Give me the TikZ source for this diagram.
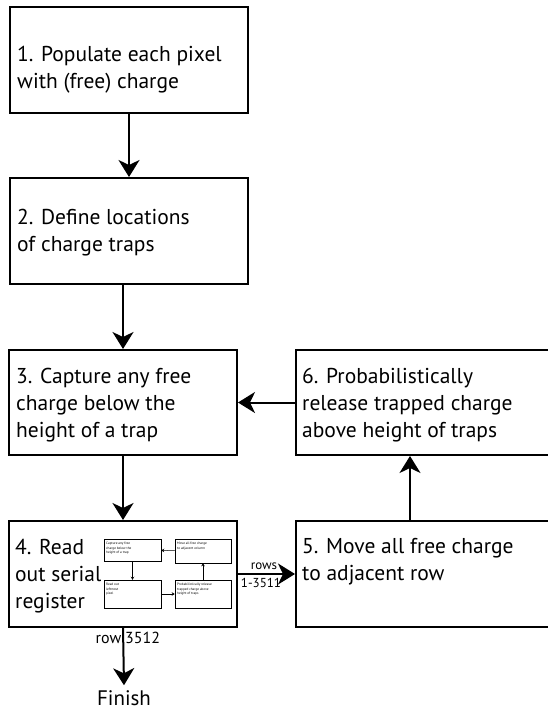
\documentclass[tikz,border=0pt]{standalone}
\usepackage{fontspec}
\setmainfont{PT Sans}
\usetikzlibrary{arrows.meta}

\tikzset{
  box/.style={draw, line width=2pt, rectangle, inner sep=0pt},
  txt/.style={anchor=base west, align=left, inner sep=0pt, font=\fontsize{21.5}{27}\selectfont},
  flow/.style={line width=2pt, -{Stealth[length=17pt,width=21pt,inset=5pt]}},
  mini/.style={draw, line width=0.5pt, rectangle, inner sep=0pt},
  minitxt/.style={anchor=north west, align=left, inner sep=0pt, font=\fontsize{3.4}{4.4}\selectfont},
  miniflow/.style={line width=0.5pt, -{Stealth[length=3pt,width=3.5pt]}},
  lbl/.style={inner sep=0pt, font=\fontsize{13}{15}\selectfont}
}

\begin{document}
\begin{tikzpicture}[x=1pt,y=-1pt]
\useasboundingbox (0,0) rectangle (548,710);

\node[box, minimum width=238pt, minimum height=106pt] (pop)     at (129,60)    {};
\node[box, minimum width=238pt, minimum height=106pt] (traps)   at (129,231)   {};
\node[box, minimum width=228pt, minimum height=105pt] (capture) at (123,402.5) {};
\node[box, minimum width=228pt, minimum height=106pt] (readout) at (123,574)   {};
\node[box, minimum width=256pt, minimum height=106pt] (move)    at (424,574)   {};
\node[box, minimum width=256pt, minimum height=105pt] (release) at (424,402.5) {};

\node[txt] (popt)     at (17,88)   {1. Populate each pixel\\with (free) charge};
\node[txt] (trapst)   at (17,251)  {2. Define locations\\of charge traps};
\node[txt] (capturet) at (16,437)  {3. Capture any free\\charge below the\\height of a trap};
\node[txt] (readoutt) at (15,608)  {4. Read\\out serial\\register};
\node[txt] (movet)    at (302,580) {5. Move all free charge\\to adjacent row};
\node[txt] (releaset) at (302,437) {6. Probabilistically\\release trapped charge\\above height of traps};

\node[font=\fontsize{21}{24}\selectfont, inner sep=0pt] (finish) at (124,698) {Finish};

\draw[flow] (pop) -- (traps);
\draw[flow] (traps.south -| capture.north) -- (capture);
\draw[flow] (capture) -- (readout);
\draw[flow] (readout.south) -- ([yshift=5pt]finish.north);
\draw[flow] (readout) -- (move);
\draw[flow] ([xshift=-14pt]move.north) -- ([xshift=-14pt]release.south);
\draw[flow] (release) -- (capture);

\node[lbl, anchor=south] (rowsa) at (264,570) {rows};
\node[lbl, anchor=north] (rowsb) at (261,578) {1-3511};
\node[lbl, anchor=base east, font=\fontsize{16}{18}\selectfont] (rowa) at (121.5,643) {row};
\node[lbl, anchor=base west, font=\fontsize{16}{18}\selectfont] (rowb) at (125,643) {3512};

\node[mini, minimum width=57pt, minimum height=22pt] (mcap)  at (132.5,550) {};
\node[mini, minimum width=56pt, minimum height=24pt] (mmove) at (203,551)   {};
\node[mini, minimum width=57pt, minimum height=28pt] (mread) at (132.5,594) {};
\node[mini, minimum width=56pt, minimum height=28pt] (mrel)  at (203,594)   {};

\node[minitxt] at (106,542) {Capture any free\\charge below the\\height of a trap};
\node[minitxt] at (177,542) {Move all free charge\\to adjacent column};
\node[minitxt] at (106,583) {Read out\\leftmost\\pixel};
\node[minitxt] at (177,583) {Probabilistically release\\trapped charge above\\height of traps};

\draw[miniflow] (mmove) -- (mcap);
\draw[miniflow] (mcap.south) -- (mread.north);
\draw[miniflow] (mread) -- (mrel);
\draw[miniflow] (mrel.north) -- (mmove.south);

\end{tikzpicture}
\end{document}
